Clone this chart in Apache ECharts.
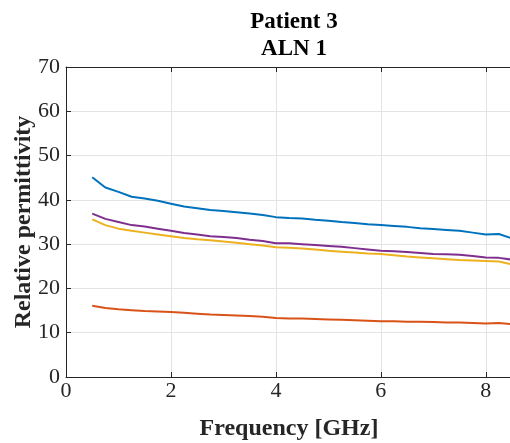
<!DOCTYPE html>
<html lang="en">
<head>
    <meta charset="UTF-8">
    <title>Patient 3 ALN 1</title>
    <script type="text/javascript" src="https://cdn.jsdelivr.net/npm/echarts@6/dist/echarts.min.js"></script>
    <style type="text/css">
        html, body { margin: 0; padding: 0; background: #ffffff; }
        #main { width: 510px; height: 443px; }
    </style>
</head>
<body>
<div id="main"></div>
<script type="text/javascript">
    // frequency points [GHz]
    var freq = [0.5, 0.75, 1, 1.25, 1.5, 1.75, 2, 2.25, 2.5, 2.75, 3, 3.25, 3.5, 3.75, 4, 4.25, 4.5,
        4.75, 5, 5.25, 5.5, 5.75, 6, 6.25, 6.5, 6.75, 7, 7.25, 7.5, 7.75, 8, 8.25, 8.5];
    var blueVals = [45.1, 42.8, 41.8, 40.7, 40.3, 39.8, 39.1, 38.5, 38.1, 37.7, 37.5, 37.2, 36.9, 36.6, 36.1, 35.9, 35.8,
        35.5, 35.3, 35.0, 34.8, 34.5, 34.3, 34.1, 33.9, 33.6, 33.4, 33.2, 33.0, 32.6, 32.2, 32.3, 31.3];
    var orangeVals = [16.1, 15.6, 15.3, 15.1, 14.9, 14.8, 14.7, 14.5, 14.3, 14.1, 14.0, 13.9, 13.8, 13.6, 13.3, 13.2, 13.2,
        13.1, 13.0, 12.9, 12.8, 12.7, 12.6, 12.6, 12.5, 12.5, 12.4, 12.3, 12.3, 12.2, 12.1, 12.2, 11.9];
    var yellowVals = [35.6, 34.3, 33.5, 33.0, 32.6, 32.2, 31.8, 31.4, 31.1, 30.9, 30.6, 30.3, 30.0, 29.7, 29.3, 29.2, 29.0,
        28.8, 28.5, 28.3, 28.1, 27.9, 27.8, 27.5, 27.2, 27.0, 26.8, 26.6, 26.4, 26.3, 26.2, 26.1, 25.4];
    var purpleVals = [36.9, 35.7, 35.0, 34.3, 34.0, 33.5, 33.0, 32.5, 32.2, 31.8, 31.6, 31.4, 31.0, 30.7, 30.2, 30.2, 30.0,
        29.8, 29.6, 29.4, 29.1, 28.8, 28.5, 28.4, 28.2, 28.0, 27.8, 27.7, 27.6, 27.3, 27.0, 26.9, 26.5];
    var xTicks = [0, 2, 4, 6, 8];
    var yTicks = [0, 10, 20, 30, 40, 50, 60, 70];

    var serif = 'Liberation Serif';
    var axisColor = '#262626';

    function pairs(vals) {
        var out = [];
        for (var i = 0; i < freq.length; i++) {
            out.push([freq[i], vals[i]]);
        }
        return out;
    }

    function line(name, color, vals) {
        return {
            name: name,
            type: 'line',
            showSymbol: false,
            data: pairs(vals),
            lineStyle: { color: color, width: 2 },
            itemStyle: { color: color },
            animation: false
        };
    }

    var chart = echarts.init(document.getElementById('main'));
    chart.setOption({
        backgroundColor: '#ffffff',
        title: {
            text: 'Patient 3\nALN 1',
            left: 289,
            top: 4,
            textAlign: 'center',
            textStyle: {
                fontFamily: serif,
                fontWeight: 'bold',
                fontSize: 23,
                lineHeight: 27,
                color: '#000000'
            }
        },
        grid: { left: 66, right: -2, top: 67, bottom: 66, outerBoundsMode: 'none' },
        xAxis: [{
            type: 'value',
            min: 0,
            max: 8.5,
            interval: 2,
            name: 'Frequency [GHz]',
            nameLocation: 'middle',
            nameGap: 40,
            nameMoveOverlap: false,
            nameTextStyle: { fontFamily: serif, fontWeight: 'bold', fontSize: 24, color: axisColor },
            axisLine: { show: true, onZero: false, lineStyle: { color: axisColor, width: 1 } },
            axisTick: { show: true, inside: true, length: 5, lineStyle: { color: axisColor } },
            axisLabel: {
                fontFamily: serif, fontSize: 22, color: axisColor, margin: 3,
                customValues: xTicks
            },
            splitLine: { show: true, lineStyle: { color: '#e3e3e3', width: 1 } }
        }, {
            type: 'value',
            position: 'top',
            min: 0,
            max: 8.5,
            interval: 2,
            axisLine: { show: true, onZero: false, lineStyle: { color: axisColor, width: 1 } },
            axisTick: { show: true, inside: true, length: 5, lineStyle: { color: axisColor } },
            axisLabel: { show: false },
            splitLine: { show: false }
        }],
        yAxis: {
            type: 'value',
            min: 0,
            max: 70,
            interval: 10,
            name: 'Relative permittivity',
            nameLocation: 'middle',
            nameGap: 30,
            nameMoveOverlap: false,
            nameTextStyle: { fontFamily: serif, fontWeight: 'bold', fontSize: 24, color: axisColor },
            axisLine: { show: true, onZero: false, lineStyle: { color: axisColor, width: 1 } },
            axisTick: { show: true, inside: true, length: 5, lineStyle: { color: axisColor } },
            axisLabel: { fontFamily: serif, fontSize: 22, color: axisColor, margin: 6, customValues: yTicks },
            splitLine: { show: true, lineStyle: { color: '#e3e3e3', width: 1 } }
        },
        series: [
            line('Blue', '#0072BD', blueVals),
            line('Orange', '#D95319', orangeVals),
            line('Yellow', '#EDB120', yellowVals),
            line('Purple', '#7E2F8E', purpleVals)
        ]
    });
</script>
</body>
</html>
